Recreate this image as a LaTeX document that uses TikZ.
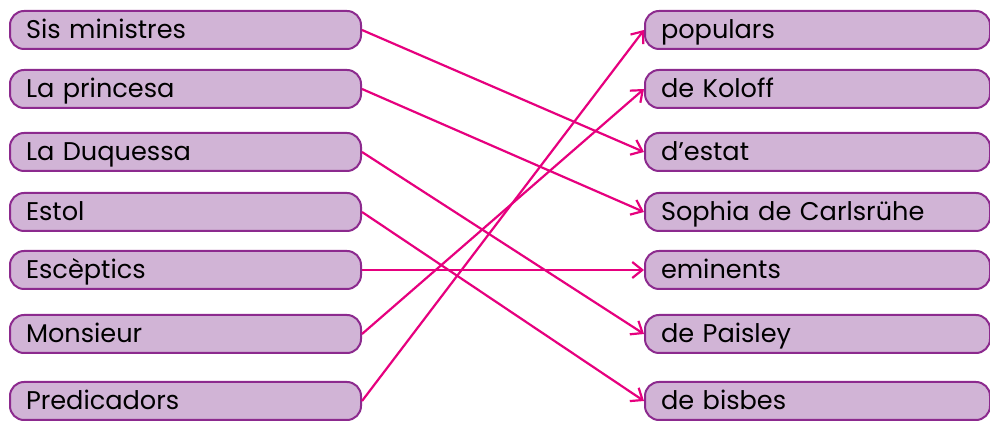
\documentclass[tikz,border=0pt]{standalone}
\usepackage{fontspec}
\setmainfont{Poppins}
\usetikzlibrary{arrows.meta}
\definecolor{boxfill}{RGB}{209,180,214}
\definecolor{boxline}{RGB}{140,42,142}
\definecolor{linkcol}{RGB}{230,0,126}
\tikzset{
  item/.style={draw=boxline,fill=boxfill,line width=1pt,rounded corners=7pt,text height=10.5pt,text depth=2pt,minimum height=19pt,inner xsep=8pt,inner ysep=0pt,anchor=west,align=left,font=\fontsize{12.8}{14}\selectfont},
  link/.style={draw=linkcol,line width=1.1pt,-{Straight Barb[length=5pt,width=8pt]}}
}
\begin{document}
\begin{tikzpicture}[x=0.5pt,y=-0.5pt]
\useasboundingbox (0,0) rectangle (990,421);
\foreach \n/\y/\txt in {1/30/Sis ministres,2/89/La princesa,3/152/La Duquessa,4/212/Estol,5/270/Escèptics,6/334/Monsieur,7/401/Predicadors}{
\node[item,text width=159.5pt] (l\n) at (9,\y) {\txt};}
\foreach \n/\y/\txt in {1/30/populars,2/89/de Koloff,3/152/d’estat,4/212/Sophia de Carlsrühe,5/270/eminents,6/334/de Paisley,7/401/de bisbes}{
\node[item,text width=156.5pt] (r\n) at (644,\y) {\txt};}
\foreach \a/\b in {1/3,2/4,3/6,4/7,5/5,6/2,7/1}{
\draw[link] (l\a.east) -- (r\b.west);}
\end{tikzpicture}
\end{document}
